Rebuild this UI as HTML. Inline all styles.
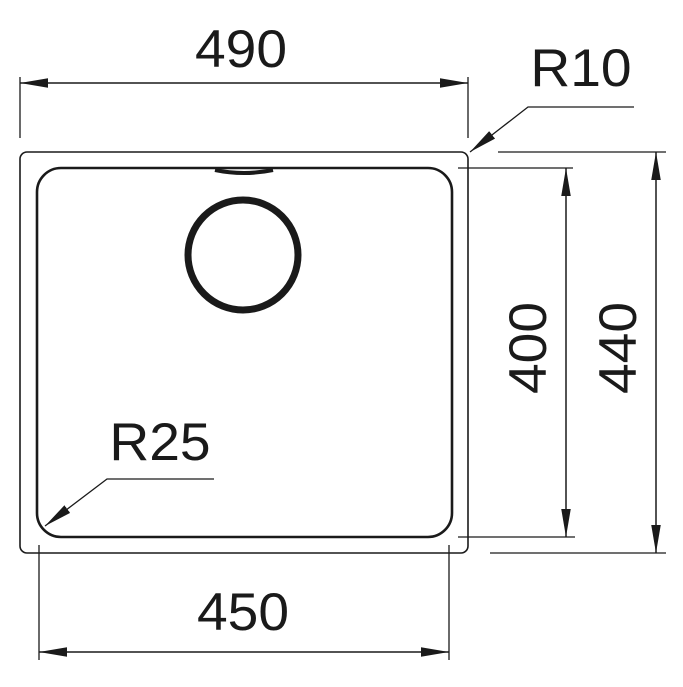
<!DOCTYPE html>
<html><head><style>body{margin:0;background:#fff}</style></head><body>
<svg width="683" height="682" viewBox="0 0 683 682" xmlns="http://www.w3.org/2000/svg" font-family="Liberation Sans, sans-serif" fill="none" stroke="#1a1a1a">
<defs>
<marker id="b" viewBox="0 0 10 10" refX="10" refY="5" markerWidth="28" markerHeight="28" markerUnits="userSpaceOnUse" orient="auto-start-reverse">
<path d="M0,3.3 L10,5 L0,6.7 z" fill="#1a1a1a" stroke="none"/></marker>
</defs>
<rect x="20" y="152" width="448" height="401" rx="7" stroke-width="1.6"/>
<rect x="37" y="168" width="415" height="369" rx="24" stroke-width="2.6"/>
<path d="M215 170 Q244 176 273 170" stroke-width="4"/>
<circle cx="243" cy="255" r="55" stroke-width="7"/>
<line x1="20" y1="77" x2="20" y2="138" stroke-width="1.3"/>
<line x1="468" y1="77" x2="468" y2="138" stroke-width="1.3"/>
<line x1="20" y1="83" x2="468" y2="83" stroke-width="1.5" marker-start="url(#b)" marker-end="url(#b)"/>
<g fill="#1a1a1a" stroke="none" font-size="46" text-anchor="middle">
<text transform="translate(241,67) scale(1.2,1.15)">490</text>
<text transform="translate(581,86) scale(1.2,1.15)">R10</text>
<text transform="translate(546,348) rotate(-90) scale(1.2,1.15)">400</text>
<text transform="translate(636,348) rotate(-90) scale(1.2,1.15)">440</text>
<text transform="translate(160,460) scale(1.2,1.15)">R25</text>
<text transform="translate(243,630) scale(1.2,1.15)">450</text>
</g>
<polyline points="634,107 528,107 470,152" stroke-width="1.3" marker-end="url(#b)"/>
<line x1="458" y1="168" x2="573" y2="168" stroke-width="1.3"/>
<line x1="458" y1="537" x2="575" y2="537" stroke-width="1.3"/>
<line x1="566" y1="168" x2="566" y2="537" stroke-width="1.5" marker-start="url(#b)" marker-end="url(#b)"/>
<line x1="498" y1="152" x2="666" y2="152" stroke-width="1.3"/>
<line x1="490" y1="553" x2="666" y2="553" stroke-width="1.3"/>
<line x1="656" y1="152" x2="656" y2="553" stroke-width="1.5" marker-start="url(#b)" marker-end="url(#b)"/>
<polyline points="214,479 107,479 45,526" stroke-width="1.3" marker-end="url(#b)"/>
<line x1="39" y1="545" x2="39" y2="660" stroke-width="1.3"/>
<line x1="449" y1="545" x2="449" y2="660" stroke-width="1.3"/>
<line x1="39" y1="652" x2="449" y2="652" stroke-width="1.5" marker-start="url(#b)" marker-end="url(#b)"/>
</svg>
</body></html>
